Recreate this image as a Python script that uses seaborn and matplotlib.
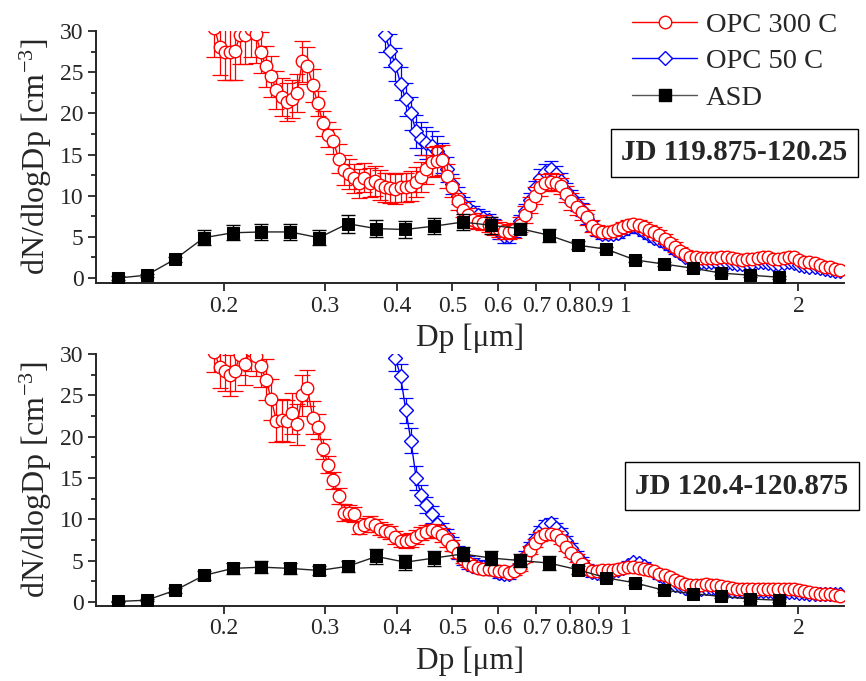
import numpy as np
import matplotlib
matplotlib.use("Agg")
import matplotlib.pyplot as plt
from matplotlib.lines import Line2D
from matplotlib.ticker import FixedLocator, FixedFormatter, MultipleLocator, NullLocator
import seaborn as sns

# ---------------- data ----------------
# ASD size bins (um)
asd_dp = [0.1309, 0.1469, 0.1648, 0.1849, 0.2075, 0.2328, 0.2612, 0.2931, 0.3289, 0.3690,
          0.4140, 0.4645, 0.5212, 0.5848, 0.6561, 0.7362, 0.8260, 0.9268, 1.0399, 1.1668,
          1.3092, 1.4689, 1.6482, 1.8493]
asd_top = [0.0, 0.35, 2.3, 4.9, 5.5, 5.6, 5.6, 4.9, 6.6, 6.0,
           5.9, 6.3, 6.8, 6.4, 6.0, 5.2, 4.0, 3.5, 2.2, 1.7,
           1.2, 0.6, 0.35, 0.1]
asd_top_err = [0.2, 0.2, 0.3, 0.9, 0.9, 1.0, 1.0, 0.9, 1.1, 1.0,
               1.0, 1.0, 1.0, 1.0, 0.7, 0.8, 0.5, 0.3, 0.3, 0.2,
               0.2, 0.2, 0.2, 0.2]
asd_bot = [0.05, 0.2, 1.4, 3.2, 4.05, 4.2, 4.05, 3.8, 4.3, 5.5,
           4.8, 5.3, 5.8, 5.3, 5.0, 4.7, 3.9, 2.9, 2.3, 1.4,
           1.0, 0.65, 0.35, 0.2]
asd_bot_err = [0.1, 0.1, 0.3, 0.5, 0.7, 0.7, 0.7, 0.5, 0.7, 0.9,
               0.9, 0.9, 0.8, 0.8, 0.8, 0.8, 0.5, 0.3, 0.3, 0.2,
               0.2, 0.2, 0.2, 0.2]

# OPC size bins (um)
opc_dp = [0.1928, 0.1968, 0.2009, 0.2051, 0.2094, 0.2138, 0.2183, 0.2228, 0.2275, 0.2323,
          0.2371, 0.2421, 0.2472, 0.2523, 0.2576, 0.2630, 0.2685, 0.2742, 0.2799, 0.2858,
          0.2917, 0.2979, 0.3041, 0.3105, 0.3170, 0.3236, 0.3304, 0.3373, 0.3443, 0.3516,
          0.3589, 0.3664, 0.3741, 0.3819, 0.3899, 0.3981, 0.4064, 0.4150, 0.4236, 0.4325,
          0.4416, 0.4508, 0.4603, 0.4699, 0.4797, 0.4898, 0.5000, 0.5105, 0.5212, 0.5321,
          0.5433, 0.5546, 0.5662, 0.5781, 0.5902, 0.6026, 0.6152, 0.6281, 0.6412, 0.6546,
          0.6683, 0.6823, 0.6966, 0.7112, 0.7261, 0.7413, 0.7568, 0.7727, 0.7889, 0.8054,
          0.8222, 0.8395, 0.8570, 0.8750, 0.8933, 0.9120, 0.9311, 0.9506, 0.9705, 0.9908,
          1.0116, 1.0328, 1.0544, 1.0765, 1.0990, 1.1220, 1.1455, 1.1695, 1.1940, 1.2190,
          1.2445, 1.2706, 1.2972, 1.3243, 1.3521, 1.3804, 1.4093, 1.4388, 1.4689, 1.4997,
          1.5311, 1.5631, 1.5959, 1.6293, 1.6634, 1.6982, 1.7338, 1.7701, 1.8072, 1.8450,
          1.8836, 1.9231, 1.9634, 2.0045, 2.0464, 2.0893, 2.1330, 2.1777, 2.2233, 2.2699,
          2.3174, 2.3659]

opc300_top = [30.4, 28.1, 27.5, 27.5, 27.6, 29.5, 29.5, 30.3, 29.6, 27.4,
              25.7, 24.5, 22.8, 22.0, 21.4, 21.7, 22.5, 26.3, 25.8, 23.4,
              21.2, 18.8, 17.4, 16.6, 14.5, 13.1, 12.6, 12.1, 11.5, 12.2,
              11.6, 11.8, 11.3, 11.0, 10.9, 10.8, 11.0, 11.0, 11.2, 11.7,
              12.3, 13.2, 14.1, 14.2, 14.3, 12.4, 11.0, 9.3, 8.3, 7.6,
              7.0, 6.8, 6.7, 6.5, 6.1, 5.9, 5.7, 5.6, 5.8, 6.5,
              7.7, 8.9, 10.0, 11.0, 11.6, 11.7, 11.6, 11.2, 10.2, 9.3,
              8.6, 8.0, 7.4, 6.3, 5.8, 5.6, 5.6, 5.75, 5.9, 6.2,
              6.4, 6.6, 6.4, 6.2, 5.8, 5.55, 5.2, 4.7, 4.2, 3.8,
              3.3, 2.95, 2.6, 2.5, 2.4, 2.4, 2.4, 2.4, 2.6, 2.55,
              2.4, 2.3, 2.2, 2.3, 2.3, 2.4, 2.55, 2.5, 2.35, 2.35,
              2.45, 2.55, 2.5, 2.2, 2.0, 1.9, 1.8, 1.6, 1.4, 1.3,
              1.1, 1.0]
opc300_top_err = [3.5, 3.5, 3.5, 3.5, 3.5, 3.5, 3.5, 3.5, 3.5, 2.5,
                  2.5, 2.5, 2.3, 2.3, 2.3, 2.3, 2.3, 2.5, 2.2, 2.0,
                  1.5, 1.5, 1.5, 1.5, 1.8, 1.8, 1.8, 1.8, 1.8, 1.8,
                  1.8, 1.8, 1.8, 1.8, 1.8, 1.8, 1.8, 1.8, 1.8, 1.8,
                  1.8, 1.8, 1.8, 1.8, 1.8, 1.5, 1.2, 1.0, 0.9, 0.9,
                  0.9, 0.9, 0.9, 0.9, 0.9, 0.9, 0.9, 0.9, 0.9, 0.9,
                  1.0, 1.0, 1.0, 1.0, 1.0, 1.0, 1.0, 1.0, 1.0, 1.0,
                  1.0, 1.0, 0.9, 0.7, 0.6, 0.6, 0.6, 0.6, 0.6, 0.6,
                  0.6, 0.6, 0.6, 0.6, 0.6, 0.6, 0.6, 0.6, 0.6, 0.6,
                  0.5, 0.4, 0.3, 0.3, 0.3, 0.3, 0.3, 0.3, 0.3, 0.3,
                  0.3, 0.3, 0.3, 0.3, 0.3, 0.3, 0.3, 0.3, 0.3, 0.3,
                  0.3, 0.3, 0.3, 0.3, 0.3, 0.3, 0.3, 0.3, 0.3, 0.3,
                  0.3, 0.3]
# OPC 50 C values start at bin index 32 (top) - earlier bins are off scale
opc50_top = [33.0, 29.5, 27.6, 25.9, 23.6, 21.7, 20.0, 17.8, 16.9, 16.4,
             16.0, 15.4, 14.6, 13.2, 11.4, 10.0, 9.0, 8.5, 8.0, 7.6,
             7.3, 7.0, 6.4, 5.6, 5.1, 5.1, 5.8, 6.9, 8.2, 9.5,
             10.9, 12.2, 12.9, 13.2, 12.6, 11.8, 10.6, 9.9, 9.0, 8.3,
             7.2, 6.3, 5.7, 5.4, 5.3, 5.3, 5.5, 5.8, 6.1, 6.3,
             6.0, 5.6, 5.2, 4.9, 4.6, 4.3, 3.9, 3.4, 3.0, 2.6,
             2.3, 2.1, 2.0, 2.0, 1.9, 1.9, 1.9, 1.8, 1.8, 1.7,
             1.7, 1.8, 1.8, 1.9, 1.9, 1.8, 1.7, 1.7, 1.8, 1.9,
             1.8, 1.6, 1.5, 1.4, 1.3, 1.2, 1.1, 1.0, 0.9, 0.8]
opc50_top_err = [2.0, 2.0, 2.0, 2.0, 2.0, 2.0, 2.0, 2.0, 2.0, 2.0,
                 1.8, 1.8, 1.8, 1.5, 1.2, 1.0, 0.9, 0.9, 0.8, 0.8,
                 0.8, 0.8, 0.8, 0.8, 0.8, 0.8, 0.8, 0.8, 0.8, 0.8,
                 0.9, 1.0, 1.0, 1.0, 1.0, 0.9, 0.9, 0.8, 0.8, 0.8,
                 0.6, 0.6, 0.6, 0.6, 0.6, 0.6, 0.6, 0.6, 0.6, 0.6,
                 0.5, 0.5, 0.5, 0.5, 0.5, 0.5, 0.5, 0.5, 0.3, 0.3,
                 0.25, 0.25, 0.25, 0.25, 0.25, 0.25, 0.25, 0.25, 0.25, 0.25,
                 0.25, 0.25, 0.25, 0.25, 0.25, 0.25, 0.25, 0.25, 0.25, 0.25,
                 0.25, 0.25, 0.25, 0.25, 0.25, 0.25, 0.25, 0.25, 0.25, 0.25]

opc300_bot = [30.3, 28.4, 28.0, 27.4, 28.0, 29.9, 28.8, 30.5, 29.8, 28.5,
              26.9, 24.5, 21.9, 22.0, 21.9, 22.8, 21.5, 25.0, 25.9, 22.3,
              21.2, 18.5, 16.6, 14.7, 12.8, 10.8, 10.8, 10.6, 9.0, 9.3,
              9.6, 9.25, 8.85, 8.6, 8.4, 7.8, 7.4, 7.35, 7.5, 7.85,
              8.25, 8.5, 8.65, 8.5, 8.1, 7.5, 6.8, 5.9, 5.2, 4.7,
              4.35, 4.1, 4.0, 4.0, 3.8, 3.7, 3.7, 3.5, 3.7, 4.2,
              5.3, 6.3, 7.1, 7.9, 8.25, 8.25, 8.1, 7.5, 6.7, 5.9,
              5.3, 4.6, 4.0, 3.75, 3.75, 3.8, 3.85, 3.9, 4.0, 4.1,
              4.2, 4.2, 4.1, 4.0, 3.9, 3.7, 3.4, 3.2, 3.0, 2.7,
              2.4, 2.2, 2.0, 2.0, 2.1, 2.2, 2.1, 2.0, 1.9, 1.8,
              1.7, 1.6, 1.6, 1.6, 1.6, 1.5, 1.5, 1.5, 1.5, 1.5,
              1.5, 1.5, 1.5, 1.4, 1.3, 1.2, 1.1, 1.0, 1.0, 0.9,
              0.8, 0.7]
opc300_bot_err = [2.5, 2.5, 2.5, 2.5, 2.5, 2.5, 2.5, 2.5, 2.5, 2.5,
                  2.5, 2.5, 2.5, 2.5, 2.5, 2.5, 2.5, 2.5, 2.2, 2.0,
                  1.5, 1.2, 1.0, 1.0, 1.0, 1.0, 0.9, 0.9, 0.8, 0.8,
                  0.8, 0.8, 0.8, 0.8, 0.8, 0.8, 0.8, 0.8, 0.8, 0.8,
                  0.8, 0.8, 0.8, 0.8, 0.8, 0.8, 0.7, 0.6, 0.5, 0.5,
                  0.5, 0.5, 0.5, 0.5, 0.5, 0.5, 0.5, 0.5, 0.5, 0.5,
                  0.5, 0.5, 0.5, 0.5, 0.5, 0.5, 0.5, 0.5, 0.5, 0.5,
                  0.5, 0.5, 0.5, 0.5, 0.5, 0.5, 0.5, 0.5, 0.5, 0.5,
                  0.4, 0.4, 0.4, 0.4, 0.4, 0.4, 0.4, 0.4, 0.4, 0.4,
                  0.3, 0.3, 0.3, 0.3, 0.3, 0.3, 0.3, 0.3, 0.3, 0.3,
                  0.3, 0.3, 0.3, 0.3, 0.3, 0.3, 0.3, 0.3, 0.3, 0.3,
                  0.3, 0.3, 0.3, 0.3, 0.3, 0.3, 0.3, 0.3, 0.3, 0.3,
                  0.3, 0.3]
# OPC 50 C values start at bin index 34 (bottom)
opc50_bot = [32.0, 29.5, 27.3, 23.2, 19.5, 15.0, 12.9, 11.7, 10.6, 9.4,
             8.7, 8.0, 7.0, 6.0, 5.3, 4.8, 4.5, 4.3, 4.2, 4.1,
             3.8, 3.5, 3.4, 3.4, 3.8, 4.6, 5.6, 6.6, 7.6, 8.6,
             9.3, 9.5, 9.0, 8.3, 7.4, 6.5, 5.6, 4.8, 4.0, 3.6,
             3.5, 3.5, 3.6, 3.7, 3.9, 4.1, 4.5, 4.8, 4.7, 4.4,
             4.0, 3.6, 3.2, 2.8, 2.4, 2.1, 1.9, 1.7, 1.6, 1.6,
             1.6, 1.7, 1.7, 1.6, 1.5, 1.4, 1.3, 1.3, 1.3, 1.3,
             1.3, 1.3, 1.3, 1.3, 1.2, 1.2, 1.2, 1.2, 1.2, 1.1,
             1.1, 1.0, 1.0, 1.0, 1.0, 0.9, 0.9, 0.9]
opc50_bot_err = [1.5, 1.5, 1.5, 1.5, 1.5, 1.5, 1.2, 1.0, 1.0, 1.0,
                 0.8, 0.8, 0.8, 0.8, 0.8, 0.8, 0.8, 0.8, 0.8, 0.8,
                 0.6, 0.6, 0.6, 0.6, 0.6, 0.6, 0.6, 0.6, 0.6, 0.6,
                 0.6, 0.6, 0.6, 0.6, 0.6, 0.6, 0.6, 0.6, 0.6, 0.6,
                 0.4, 0.4, 0.4, 0.4, 0.4, 0.4, 0.4, 0.4, 0.4, 0.4,
                 0.4, 0.4, 0.4, 0.3, 0.3, 0.2, 0.2, 0.2, 0.2, 0.2,
                 0.2, 0.2, 0.2, 0.2, 0.2, 0.2, 0.2, 0.2, 0.2, 0.2,
                 0.2, 0.2, 0.2, 0.2, 0.2, 0.2, 0.2, 0.2, 0.2, 0.2,
                 0.2, 0.2, 0.2, 0.2, 0.2, 0.2, 0.2, 0.2]

x_ticks = [0.2, 0.3, 0.4, 0.5, 0.6, 0.7, 0.8, 0.9, 1.0, 2.0]
x_ticklabels = ["0.2", "0.3", "0.4", "0.5", "0.6", "0.7", "0.8", "0.9", "1", "2"]
y_ticks = [0, 5, 10, 15, 20, 25, 30]
series_labels = ["OPC 300 C", "OPC 50 C", "ASD"]
panel_titles = ["JD 119.875-120.25", "JD 120.4-120.875"]

# ---------------- style ----------------
sns.set_style("ticks")
plt.rcParams["font.family"] = ["Liberation Serif", "DejaVu Serif"]
plt.rcParams["mathtext.fontset"] = "custom"
plt.rcParams["mathtext.rm"] = "Liberation Serif"
plt.rcParams["mathtext.it"] = "Liberation Serif:italic"

RED = "#ff0000"
BLUE = "#0000ff"

fig = plt.figure(figsize=(8.66, 6.81), dpi=100)
ax_top = fig.add_axes([96 / 866, 1 - 283 / 681, 748 / 866, 252 / 681])
ax_bot = fig.add_axes([96 / 866, 1 - 606 / 681, 748 / 866, 252 / 681])

panels = [
    (ax_top, opc300_top, opc300_top_err, opc50_top, opc50_top_err, asd_top, asd_top_err, (-0.6, 30)),
    (ax_bot, opc300_bot, opc300_bot_err, opc50_bot, opc50_bot_err, asd_bot, asd_bot_err, (-0.5, 30)),
]

for ax, r, re_, b, be, a, ae, ylim in panels:
    b_dp = opc_dp[len(opc_dp) - len(b):]
    # OPC 50 C (blue)
    ax.errorbar(b_dp, b, yerr=be, fmt="none", ecolor=BLUE, elinewidth=0.9, capsize=5,
                capthick=0.9, zorder=2)
    sns.lineplot(x=b_dp, y=b, ax=ax, color=BLUE, linewidth=1.0, marker="D", markersize=7,
                 markerfacecolor="white", markeredgecolor=BLUE, markeredgewidth=1.0,
                 estimator=None, sort=False, legend=False, zorder=3)
    # OPC 300 C (red)
    ax.errorbar(opc_dp, r, yerr=re_, fmt="none", ecolor=RED, elinewidth=0.9, capsize=6,
                capthick=0.9, zorder=4)
    sns.lineplot(x=opc_dp, y=r, ax=ax, color=RED, linewidth=1.0, marker="o", markersize=9,
                 markerfacecolor="white", markeredgecolor=RED, markeredgewidth=1.0,
                 estimator=None, sort=False, legend=False, zorder=5)
    # ASD (black)
    ax.errorbar(asd_dp, a, yerr=ae, fmt="none", ecolor="black", elinewidth=1.0, capsize=5,
                capthick=1.0, zorder=6)
    sns.lineplot(x=asd_dp, y=a, ax=ax, color="#222222", linewidth=1.0, marker="s", markersize=8,
                 markerfacecolor="black", markeredgecolor="black",
                 estimator=None, sort=False, legend=False, zorder=7)

    ax.set_xscale("log")
    ax.set_xlim(0.12, 2.4)
    ax.set_ylim(*ylim)
    ax.xaxis.set_major_locator(FixedLocator(x_ticks))
    ax.xaxis.set_major_formatter(FixedFormatter(x_ticklabels))
    ax.xaxis.set_minor_locator(NullLocator())
    ax.yaxis.set_major_locator(FixedLocator(y_ticks))
    ax.yaxis.set_minor_locator(MultipleLocator(2.5))
    ax.tick_params(axis="both", which="major", direction="out", length=6, width=1.3,
                   labelsize=17, pad=3)
    ax.tick_params(axis="y", which="minor", direction="out", length=3.5, width=1.3)
    for side in ["top", "right"]:
        ax.spines[side].set_visible(False)
    for side in ["left", "bottom"]:
        ax.spines[side].set_linewidth(1.4)
    ax.set_xlabel("Dp [\u03bcm]", fontsize=22.5, labelpad=5)
    ax.set_ylabel("dN/dlogDp [cm$^{-3}$]", fontsize=23, labelpad=4)

# panel annotation boxes
fig.text(734.5 / 866, 1 - 153 / 681, panel_titles[0], ha="center", va="center",
         fontsize=21, fontweight="bold",
         bbox=dict(boxstyle="square,pad=0.36", facecolor="white", edgecolor="black", linewidth=1.0))
fig.text(742 / 866, 1 - 486 / 681, panel_titles[1], ha="center", va="center",
         fontsize=21, fontweight="bold",
         bbox=dict(boxstyle="square,pad=0.36", facecolor="white", edgecolor="black", linewidth=1.0))

# legend
handles = [
    Line2D([], [], color=RED, lw=1.0, marker="o", ms=9, mfc="white", mec=RED, mew=1.0),
    Line2D([], [], color=BLUE, lw=1.0, marker="D", ms=7, mfc="white", mec=BLUE, mew=1.0),
    Line2D([], [], color="#555555", lw=1.0, marker="s", ms=8, mfc="black", mec="black"),
]
fig.legend(handles, series_labels, loc="upper left", bbox_to_anchor=(632 / 866, 1 - 12 / 681),
           frameon=False, fontsize=20.5, handlelength=2.3, handletextpad=0.3,
           labelspacing=0.37, borderpad=0, borderaxespad=0)

fig.savefig("out.png", dpi=100, facecolor="white")
